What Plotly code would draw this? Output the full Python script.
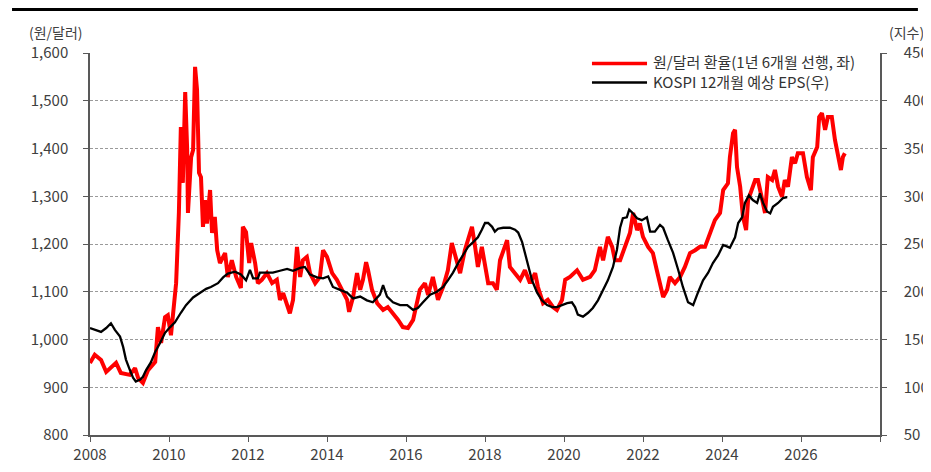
import plotly.graph_objects as go

# ---- data ----
fx_years = [2008.00, 2008.12, 2008.28, 2008.41, 2008.66, 2008.78, 2009.01, 2009.14, 2009.22, 2009.34,
            2009.47, 2009.65, 2009.72, 2009.80, 2009.90, 2009.97, 2010.05, 2010.13, 2010.18, 2010.25,
            2010.30, 2010.35, 2010.41, 2010.46, 2010.48, 2010.56, 2010.61, 2010.66, 2010.71, 2010.76,
            2010.81, 2010.86, 2010.91, 2010.96, 2011.04, 2011.09, 2011.16, 2011.22, 2011.29, 2011.42,
            2011.49, 2011.59, 2011.70, 2011.82, 2011.87, 2011.95, 2012.03, 2012.08, 2012.18, 2012.25,
            2012.35, 2012.48, 2012.61, 2012.73, 2012.81, 2012.89, 2012.99, 2013.06, 2013.14, 2013.24,
            2013.32, 2013.39, 2013.49, 2013.57, 2013.70, 2013.82, 2013.90, 2014.00, 2014.13, 2014.25,
            2014.38, 2014.51, 2014.56, 2014.66, 2014.76, 2014.84, 2014.91, 2014.99, 2015.04, 2015.14,
            2015.27, 2015.42, 2015.54, 2015.67, 2015.80, 2015.92, 2016.05, 2016.18, 2016.30, 2016.35,
            2016.48, 2016.56, 2016.68, 2016.81, 2016.94, 2017.06, 2017.16, 2017.29, 2017.37, 2017.49,
            2017.57, 2017.67, 2017.75, 2017.82, 2017.92, 2018.00, 2018.08, 2018.20, 2018.30, 2018.38,
            2018.46, 2018.56, 2018.63, 2018.76, 2018.89, 2019.01, 2019.14, 2019.27, 2019.34, 2019.47,
            2019.59, 2019.72, 2019.82, 2019.95, 2020.03, 2020.15, 2020.33, 2020.48, 2020.66, 2020.78,
            2020.91, 2020.99, 2021.11, 2021.22, 2021.29, 2021.42, 2021.54, 2021.67, 2021.75, 2021.85,
            2021.92, 2022.00, 2022.13, 2022.25, 2022.35, 2022.43, 2022.51, 2022.61, 2022.68, 2022.81,
            2022.94, 2023.06, 2023.19, 2023.32, 2023.44, 2023.57, 2023.70, 2023.82, 2023.95, 2024.03,
            2024.15, 2024.20, 2024.28, 2024.33, 2024.38, 2024.46, 2024.53, 2024.61, 2024.66, 2024.76,
            2024.84, 2024.91, 2025.01, 2025.09, 2025.16, 2025.27, 2025.34, 2025.42, 2025.52, 2025.59,
            2025.67, 2025.77, 2025.85, 2025.92, 2026.05, 2026.15, 2026.25, 2026.30, 2026.41, 2026.46,
            2026.53, 2026.61, 2026.68, 2026.78, 2026.86, 2026.94, 2027.01, 2027.06, 2027.11]
fx_values = [951, 968, 957, 932, 951, 930, 926, 940, 919, 909,
             936, 953, 1026, 993, 1047, 1051, 1009, 1076, 1118, 1265,
             1445, 1328, 1518, 1397, 1265, 1382, 1397, 1571, 1523, 1349,
             1340, 1236, 1292, 1243, 1313, 1223, 1257, 1187, 1160, 1181,
             1131, 1166, 1131, 1108, 1236, 1225, 1160, 1202, 1160, 1118,
             1125, 1139, 1118, 1125, 1083, 1097, 1068, 1055, 1083, 1194,
             1131, 1166, 1173, 1139, 1118, 1131, 1187, 1173, 1139, 1125,
             1104, 1083, 1058, 1089, 1139, 1104, 1125, 1162, 1145, 1104,
             1076, 1062, 1068, 1055, 1041, 1026, 1024, 1041, 1083, 1104,
             1118, 1093, 1131, 1083, 1110, 1145, 1202, 1166, 1139, 1187,
             1208, 1236, 1194, 1152, 1194, 1152, 1118, 1118, 1104, 1166,
             1187, 1208, 1152, 1139, 1125, 1145, 1118, 1139, 1110, 1076,
             1083, 1068, 1062, 1083, 1125, 1131, 1145, 1125, 1131, 1145,
             1194, 1166, 1215, 1194, 1166, 1166, 1194, 1223, 1265, 1229,
             1243, 1215, 1194, 1181, 1145, 1118, 1089, 1104, 1131, 1118,
             1131, 1152, 1181, 1187, 1194, 1194, 1223, 1250, 1265, 1313,
             1327, 1382, 1432, 1439, 1361, 1320, 1257, 1229, 1292, 1313,
             1334, 1334, 1292, 1265, 1340, 1334, 1355, 1320, 1299, 1334,
             1320, 1382, 1369, 1390, 1390, 1340, 1313, 1382, 1403, 1466,
             1474, 1439, 1466, 1466, 1418, 1382, 1355, 1382, 1390]

eps_years = [2008.00, 2008.12, 2008.28, 2008.41, 2008.53, 2008.63, 2008.76, 2008.84, 2008.91, 2009.01,
             2009.09, 2009.16, 2009.27, 2009.34, 2009.42, 2009.54, 2009.65, 2009.77, 2009.90, 2010.03,
             2010.15, 2010.30, 2010.43, 2010.61, 2010.78, 2010.94, 2011.06, 2011.24, 2011.37, 2011.49,
             2011.67, 2011.82, 2011.95, 2012.05, 2012.13, 2012.25, 2012.30, 2012.48, 2012.63, 2012.81,
             2012.99, 2013.14, 2013.32, 2013.44, 2013.57, 2013.75, 2013.90, 2014.03, 2014.15, 2014.33,
             2014.51, 2014.66, 2014.84, 2015.01, 2015.16, 2015.34, 2015.42, 2015.52, 2015.67, 2015.85,
             2016.03, 2016.18, 2016.30, 2016.43, 2016.61, 2016.78, 2016.94, 2017.06, 2017.19, 2017.32,
             2017.44, 2017.57, 2017.70, 2017.82, 2017.92, 2018.00, 2018.08, 2018.18, 2018.25, 2018.33,
             2018.46, 2018.63, 2018.76, 2018.84, 2018.94, 2019.01, 2019.09, 2019.19, 2019.32, 2019.44,
             2019.57, 2019.70, 2019.82, 2019.95, 2020.08, 2020.20, 2020.28, 2020.35, 2020.48, 2020.61,
             2020.73, 2020.86, 2020.99, 2021.11, 2021.24, 2021.34, 2021.42, 2021.49, 2021.59, 2021.65,
             2021.75, 2021.85, 2021.97, 2022.10, 2022.18, 2022.30, 2022.43, 2022.51, 2022.63, 2022.76,
             2022.89, 2023.01, 2023.14, 2023.27, 2023.39, 2023.52, 2023.65, 2023.77, 2023.90, 2024.03,
             2024.15, 2024.20, 2024.33, 2024.41, 2024.51, 2024.58, 2024.68, 2024.78, 2024.89, 2024.96,
             2025.04, 2025.14, 2025.22, 2025.29, 2025.42, 2025.54, 2025.65]
eps_values = [162, 160, 158, 162, 167, 160, 153, 142, 129, 118,
              110, 106, 108, 111, 118, 126, 137, 146, 157, 163,
              168, 178, 186, 194, 199, 203, 205, 209, 215, 219,
              221, 218, 212, 223, 214, 214, 220, 220, 220, 222,
              224, 222, 225, 226, 218, 215, 214, 216, 205, 202,
              199, 193, 195, 191, 189, 197, 207, 195, 189, 186,
              186, 181, 183, 189, 197, 200, 205, 212, 220, 230,
              238, 247, 252, 257, 265, 272, 272, 268, 263, 266,
              267, 267, 265, 262, 252, 241, 226, 212, 199, 191,
              186, 184, 184, 186, 188, 189, 184, 176, 174, 178,
              183, 191, 202, 212, 226, 244, 267, 277, 278, 286,
              282, 277, 275, 278, 263, 263, 270, 267, 254, 241,
              223, 205, 189, 186, 199, 212, 220, 230, 238, 249,
              247, 246, 257, 272, 278, 293, 301, 296, 293, 303,
              293, 284, 282, 289, 293, 298, 299]

x_tick_vals = [2008, 2010, 2012, 2014, 2016, 2018, 2020, 2022, 2024, 2026, 2028]
x_tick_text = ["2008", "2010", "2012", "2014", "2016", "2018", "2020", "2022", "2024", "2026", ""]
left_tick_vals = [800, 900, 1000, 1100, 1200, 1300, 1400, 1500, 1600]
right_tick_vals = [50, 100, 150, 200, 250, 300, 350, 400, 450]

name_fx = "원/달러 환율(1년 6개월 선행, 좌)"
name_eps = "KOSPI 12개월 예상 EPS(우)"

FONT = "Noto Sans CJK KR"
AXIS_COLOR = "#595959"
TEXT_COLOR = "#404040"
RED = "#ff0000"
BLACK = "#000000"

fig = go.Figure()
fig.add_trace(go.Scatter(x=fx_years, y=fx_values, name=name_fx, mode="lines",
                         line=dict(color=RED, width=4), yaxis="y", showlegend=False))
fig.add_trace(go.Scatter(x=eps_years, y=eps_values, name=name_eps, mode="lines",
                         line=dict(color=BLACK, width=2.3), yaxis="y2", showlegend=False))

# legend: key lines + one two-line label block (paper coordinates)
leg_x0, leg_x1, leg_tx, leg_ty = 0.6354, 0.7051, 0.7101, 0.9503
leg_keys = [(RED, 3.5, 0.9725), (BLACK, 2.5, 0.9228)]

shapes = [dict(type="line", xref="paper", yref="paper",
               x0=-0.0987, x1=1.048, y0=1.1139, y1=1.1139,
               line=dict(color="black", width=3))]
for col, w, yy in leg_keys:
    shapes.append(dict(type="line", xref="paper", yref="paper",
                       x0=leg_x0, x1=leg_x1, y0=yy, y1=yy,
                       line=dict(color=col, width=w)))

annotations = [
    dict(text="(원/달러)", xref="paper", yref="paper", x=-0.043, y=1.055,
         xanchor="center", yanchor="middle", showarrow=False,
         font=dict(family=FONT, size=14, color=TEXT_COLOR)),
    dict(text="(지수)", xref="paper", yref="paper", x=1.0089, y=1.055,
         xanchor="left", yanchor="middle", showarrow=False,
         font=dict(family=FONT, size=14, color=TEXT_COLOR)),
    dict(text=name_fx + "<br>" + name_eps, xref="paper", yref="paper",
         x=leg_tx, y=leg_ty, xanchor="left", yanchor="middle", align="left",
         showarrow=False, font=dict(family=FONT, size=15, color="#333333")),
]

# the page body adds an 8px offset, so the figure is 8px smaller than the window
fig.update_layout(
    width=923, height=464,
    margin=dict(l=82, r=51, t=45, b=37),
    paper_bgcolor="white", plot_bgcolor="white",
    font=dict(family=FONT, size=14, color=TEXT_COLOR),
    showlegend=False,
    xaxis=dict(range=[2008, 2028], tickvals=x_tick_vals, ticktext=x_tick_text,
               showgrid=False, zeroline=False, automargin=False,
               showline=True, linecolor=AXIS_COLOR, linewidth=1.5,
               ticks="outside", ticklen=5, tickcolor=AXIS_COLOR, tickwidth=1,
               tickfont=dict(family=FONT, size=15, color=TEXT_COLOR)),
    yaxis=dict(range=[800, 1600], tickvals=left_tick_vals, tickformat=",",
               showgrid=True, gridcolor="#9a9a9a", gridwidth=1, griddash="3px,2px",
               zeroline=False, automargin=False,
               showline=True, linecolor=AXIS_COLOR, linewidth=1.5,
               ticks="outside", ticklen=5, tickcolor=AXIS_COLOR, tickwidth=1,
               ticklabelstandoff=12,
               tickfont=dict(family=FONT, size=15, color=TEXT_COLOR)),
    yaxis2=dict(range=[50, 450], tickvals=right_tick_vals, overlaying="y", side="right",
                showgrid=False, zeroline=False, automargin=False,
                showline=True, linecolor=AXIS_COLOR, linewidth=1.5,
                ticks="outside", ticklen=5, tickcolor=AXIS_COLOR, tickwidth=1,
                ticklabelstandoff=14,
                tickfont=dict(family=FONT, size=15, color=TEXT_COLOR)),
    shapes=shapes,
    annotations=annotations,
)

fig.write_html("out.html")
